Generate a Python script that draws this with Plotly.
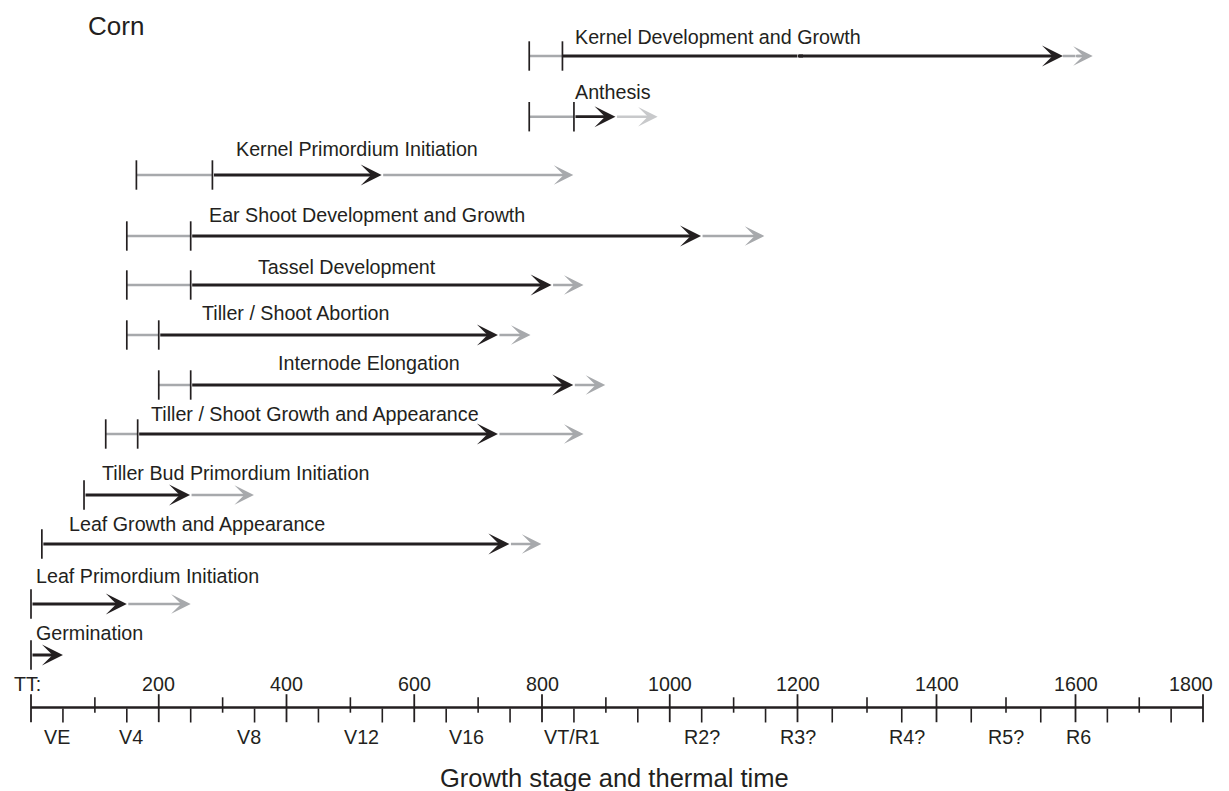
import plotly.graph_objects as go

# ---------------- data (thermal time, TT) ----------------
PROCESSES = [
    "Kernel Development and Growth",
    "Anthesis",
    "Kernel Primordium Initiation",
    "Ear Shoot Development and Growth",
    "Tassel Development",
    "Tiller / Shoot Abortion",
    "Internode Elongation",
    "Tiller / Shoot Growth and Appearance",
    "Tiller Bud Primordium Initiation",
    "Leaf Growth and Appearance",
    "Leaf Primordium Initiation",
    "Germination",
]
EARLY_START = [780, 780, 165, 150, 150, 150, 200, 117, 83, 17, 0, 0]
TYPICAL_START = [832, 850, 284, 250, 250, 200, 250, 167, 83, 17, 0, 0]
TYPICAL_END = [1582, 915, 549, 1049, 815, 731, 849, 731, 249, 749, 150, 50]
LATE_END = [1627, 981, 849, 1148, 865, 782, 899, 865, 349, 799, 250, 50]

TT_TICKS = [0, 200, 400, 600, 800, 1000, 1200, 1400, 1600, 1800]
TT_TICK_TEXT = ["TT:", "200", "400", "600", "800", "1000", "1200", "1400", "1600", "1800"]
TT_MINOR_UP = [100, 300, 500, 700, 900, 1100, 1300, 1500, 1700]
TT_MINOR_DOWN = [50, 150, 250, 350, 450, 550, 650, 750, 850, 950,
                 1050, 1150, 1250, 1350, 1450, 1550, 1650, 1750]
STAGES = ["VE", "V4", "V8", "V12", "V16", "VT/R1", "R2?", "R3?", "R4?", "R5?", "R6"]
STAGE_TT = [40, 157, 341, 518, 682, 847, 1050, 1200, 1357, 1500, 1605]

# ---------------- layout / style ----------------
PAGE_W, PAGE_H = 1229, 791
BODY = 8                                     # default page margin around the figure
W, H = PAGE_W - BODY, PAGE_H - BODY
SEG_BREAKS = [0, 1200, 1600, 1800]          # axis pieces (TT)
SEG_PX = [31, 797.5, 1075.5, 1203]          # page position of each piece's ends
AX = ["x", "x2", "x3"]
NSEG = len(SEG_BREAKS) - 1

ROW_Y = [56, 116.7, 175, 236, 285, 335, 385, 434, 495, 544, 604, 655]
LABEL_Y = [37.3, 91.7, 149, 215, 266.7, 313, 363, 414, 472.7, 524, 576, 632.7]
LABEL_X = [849, 849, 318, 276, 352, 264, 384, 185, 108, 56, 5, 5]   # left edge, TT units
LATE_COLOR = ["#a7a9ac", "#c8c9cb"] + ["#a7a9ac"] * 10
TICKLABEL_XSHIFT = [-4, 0, 0, 0, 0, 0, 0, 0, 0, -12]

AXIS_Y = 707.5
TICKLABEL_Y = 683.5
STAGELABEL_Y = 736.5

BLACK = "#231f20"
GRAY = "#a7a9ac"
FONT = "Liberation Sans, Arial, Helvetica, sans-serif"
FS = 19.7
LW_BLACK = 2.8
LW_GRAY = 2.6
HEAD = 1.25
JOIN_OVERLAP = 8   # TT units of shaft overlap where an arrow crosses an axis piece

fig = go.Figure()


def px_x(p):
    return (p - BODY) / W


def seg_index(v, prefer="right"):
    for i in range(NSEG):
        lo, hi = SEG_BREAKS[i], SEG_BREAKS[i + 1]
        if lo <= v <= hi:
            if v == hi and prefer == "right" and i < NSEG - 1:
                continue
            return i
    return NSEG - 1


def split(a, b):
    out = []
    for i in range(NSEG):
        lo, hi = max(a, SEG_BREAKS[i]), min(b, SEG_BREAKS[i + 1])
        if hi > lo:
            out.append((i, lo, hi))
    return out


def add_line(a, b, y, color, width):
    for i, lo, hi in split(a, b):
        fig.add_trace(go.Scatter(x=[lo, hi], y=[y, y], mode="lines",
                                 line=dict(color=color, width=width),
                                 xaxis=AX[i], yaxis="y", hoverinfo="skip",
                                 showlegend=False))


def add_arrow(a, b, y, color, width):
    pcs = split(a, b)
    for i, lo, hi in pcs[:-1]:
        add_line(lo, hi, y, color, width)
    i, lo, hi = pcs[-1]
    if len(pcs) > 1:
        add_line(lo, min(lo + JOIN_OVERLAP, hi), y, color, width)
    fig.add_annotation(x=hi, y=y, ax=lo, ay=y, xref=AX[i], axref=AX[i],
                       yref="y", ayref="y", text="", showarrow=True,
                       arrowhead=3, arrowsize=HEAD, arrowwidth=width,
                       arrowcolor=color, standoff=0, startstandoff=0)


def add_ticks(values, ys, size, width=1.6, color=BLACK):
    groups = {}
    for v, yy in zip(values, ys):
        groups.setdefault(seg_index(v), []).append((v, yy))
    for i, pts in groups.items():
        fig.add_trace(go.Scatter(x=[p[0] for p in pts], y=[p[1] for p in pts],
                                 mode="markers",
                                 marker=dict(symbol="line-ns", size=size,
                                             line=dict(color=color, width=width)),
                                 xaxis=AX[i], yaxis="y", cliponaxis=False,
                                 hoverinfo="skip", showlegend=False))


def add_text(v, y, text, size=FS, xanchor="center", xshift=0):
    i = seg_index(v, prefer="left")
    fig.add_annotation(x=v, y=y, xref=AX[i], yref="y", text=text, showarrow=False,
                       xanchor=xanchor, yanchor="middle", xshift=xshift,
                       font=dict(family=FONT, size=size, color=BLACK))


# ---- process bars ----
for k in range(len(PROCESSES)):
    if EARLY_START[k] < TYPICAL_START[k]:
        add_line(EARLY_START[k], TYPICAL_START[k], ROW_Y[k], GRAY, LW_GRAY)

tick_x, tick_y = [], []
for k in range(len(PROCESSES)):
    tick_x.append(EARLY_START[k]); tick_y.append(ROW_Y[k])
    if TYPICAL_START[k] != EARLY_START[k]:
        tick_x.append(TYPICAL_START[k]); tick_y.append(ROW_Y[k])

for k in range(len(PROCESSES)):
    if LATE_END[k] > TYPICAL_END[k]:
        add_arrow(TYPICAL_END[k], LATE_END[k], ROW_Y[k], LATE_COLOR[k], LW_GRAY)
for k in range(len(PROCESSES)):
    add_arrow(TYPICAL_START[k], TYPICAL_END[k], ROW_Y[k], BLACK, LW_BLACK)

add_ticks(tick_x, tick_y, size=21, width=1.7)

for k, name in enumerate(PROCESSES):
    add_text(LABEL_X[k], LABEL_Y[k], name, xanchor="left")

# ---- thermal-time / growth-stage axis ----
add_line(SEG_BREAKS[0], SEG_BREAKS[-1], AXIS_Y, BLACK, 2.4)
add_ticks(TT_TICKS, [AXIS_Y + 0.7] * len(TT_TICKS), size=20, width=1.8)
add_ticks(TT_MINOR_UP, [AXIS_Y - 2.5] * len(TT_MINOR_UP), size=11, width=1.6)
add_ticks(TT_MINOR_DOWN, [AXIS_Y + 8] * len(TT_MINOR_DOWN), size=10, width=1.6)

for v, t, s in zip(TT_TICKS, TT_TICK_TEXT, TICKLABEL_XSHIFT):
    add_text(v, TICKLABEL_Y, t, xshift=s)
for v, t in zip(STAGE_TT, STAGES):
    add_text(v, STAGELABEL_Y, t)

fig.add_annotation(x=px_x(614), y=778, xref="paper", yref="y",
                   text="Growth stage and thermal time", showarrow=False,
                   xanchor="center", yanchor="middle",
                   font=dict(family=FONT, size=25.5, color=BLACK))
fig.add_annotation(x=px_x(86), y=26, xref="paper", yref="y", text="Corn",
                   showarrow=False, xanchor="left", yanchor="middle",
                   font=dict(family=FONT, size=26, color=BLACK))

layout_axes = {}
for i in range(NSEG):
    key = "xaxis" if i == 0 else "xaxis%d" % (i + 1)
    layout_axes[key] = dict(domain=[px_x(SEG_PX[i]), px_x(SEG_PX[i + 1])],
                            range=[SEG_BREAKS[i], SEG_BREAKS[i + 1]],
                            visible=False, anchor="y", fixedrange=True)

fig.update_layout(
    width=W, height=H,
    margin=dict(l=0, r=0, t=0, b=0),
    paper_bgcolor="white", plot_bgcolor="white",
    showlegend=False,
    yaxis=dict(domain=[0, 1], range=[PAGE_H, BODY], visible=False, fixedrange=True),
    **layout_axes,
)

fig.write_html("out.html")
